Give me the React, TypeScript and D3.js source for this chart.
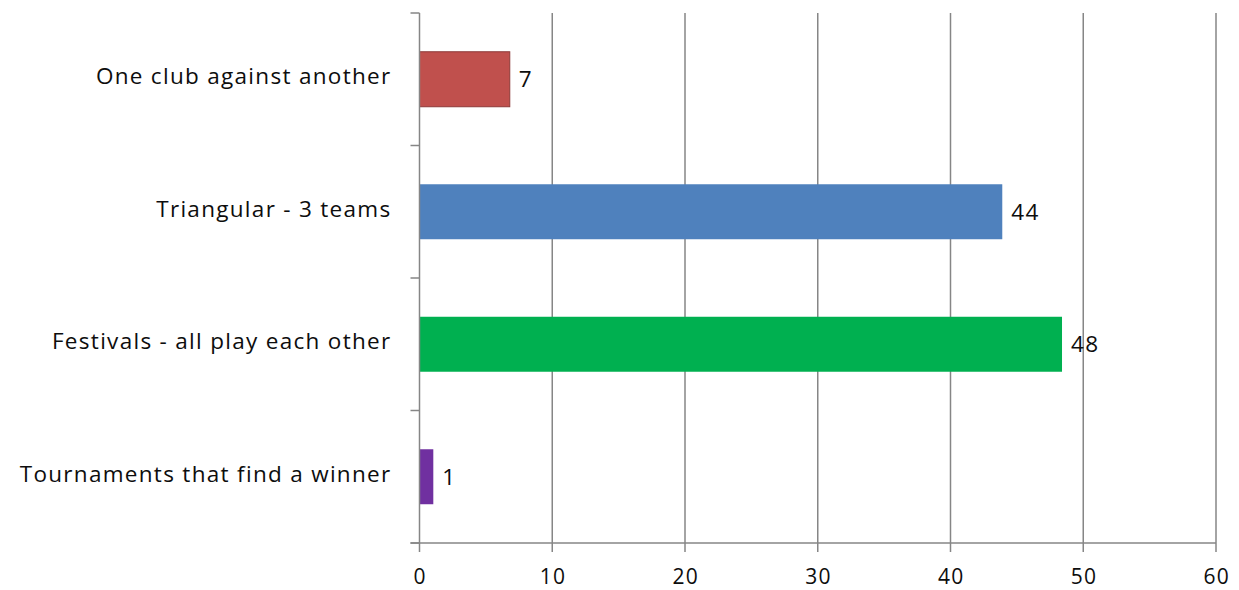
import React, { useEffect, useRef } from 'react';
import * as d3 from 'd3';

const categories = [
  'One club against another',
  'Triangular - 3 teams',
  'Festivals - all play each other',
  'Tournaments that find a winner',
];
const values = [6.8, 43.9, 48.4, 1.04];
const barColors = ['#C0504D', '#4F81BD', '#00B050', '#7030A0'];
const barStrokes = ['#8C3A38', 'none', 'none', 'none'];
const xTicks = [0, 10, 20, 30, 40, 50, 60];

const width = 1239;
const height = 590;

const App: React.FC = () => {
  const svgRef = useRef<SVGSVGElement | null>(null);

  useEffect(() => {
    document.body.style.margin = '0';
    if (!svgRef.current) return;
    const svg = d3.select(svgRef.current);
    svg.selectAll('*').remove();

    const margin = { top: 13, right: 23, bottom: 47, left: 419.5 };
    const innerW = width - margin.left - margin.right;
    const innerH = height - margin.top - margin.bottom;
    const font = '"Open Sans", Lato, sans-serif';
    const fontSize = 22.5;
    const spacing = '1.3px';
    const grey = '#868686';
    const textColor = '#0d0d0d';

    const g = svg.append('g').attr('transform', `translate(${margin.left},${margin.top})`);

    const x = d3.scaleLinear().domain([0, 60]).range([0, innerW]);
    const y = d3.scaleBand().domain(categories).range([0, innerH]).paddingInner(0.585).paddingOuter(0.2925);

    // gridlines
    g.selectAll('.grid')
      .data(xTicks.slice(1))
      .enter()
      .append('line')
      .attr('x1', d => x(d))
      .attr('x2', d => x(d))
      .attr('y1', 0)
      .attr('y2', innerH)
      .attr('stroke', grey)
      .attr('stroke-width', 1.5);

    // bars
    g.selectAll('.bar')
      .data(values)
      .enter()
      .append('rect')
      .attr('x', 0)
      .attr('y', (d, i) => y(categories[i]) || 0)
      .attr('width', d => x(d))
      .attr('height', y.bandwidth())
      .attr('fill', (d, i) => barColors[i])
      .attr('stroke', (d, i) => barStrokes[i])
      .attr('stroke-width', 1);

    // value labels
    g.selectAll('.val')
      .data(values)
      .enter()
      .append('text')
      .attr('x', d => x(d) + 9)
      .attr('y', (d, i) => (y(categories[i]) || 0) + y.bandwidth() / 2)
      .attr('dy', '0.36em')
      .attr('font-family', font)
      .attr('font-size', fontSize)
      .attr('letter-spacing', spacing)
      .attr('fill', textColor)
      .text(d => d3.format('.0f')(d));

    // y axis
    const step = y.step();
    const boundaries = d3.range(categories.length + 1).map(i => i * step);
    g.append('line')
      .attr('x1', 0).attr('x2', 0)
      .attr('y1', 0).attr('y2', innerH)
      .attr('stroke', grey).attr('stroke-width', 1.5);
    g.selectAll('.ytick')
      .data(boundaries)
      .enter()
      .append('line')
      .attr('x1', -9).attr('x2', 0)
      .attr('y1', d => d).attr('y2', d => d)
      .attr('stroke', grey).attr('stroke-width', 1.5);

    g.selectAll('.ylab')
      .data(categories)
      .enter()
      .append('text')
      .attr('x', -28)
      .attr('y', d => (y(d) || 0) + y.bandwidth() / 2 - 3)
      .attr('dy', '0.36em')
      .attr('text-anchor', 'end')
      .attr('font-family', font)
      .attr('font-size', fontSize)
      .attr('letter-spacing', spacing)
      .attr('fill', textColor)
      .text(d => d);

    // x axis
    g.append('line')
      .attr('x1', -9).attr('x2', innerW)
      .attr('y1', innerH).attr('y2', innerH)
      .attr('stroke', grey).attr('stroke-width', 1.5);
    g.selectAll('.xtick')
      .data(xTicks)
      .enter()
      .append('line')
      .attr('x1', d => x(d)).attr('x2', d => x(d))
      .attr('y1', innerH).attr('y2', innerH + 9)
      .attr('stroke', grey).attr('stroke-width', 1.5);
    g.selectAll('.xlab')
      .data(xTicks)
      .enter()
      .append('text')
      .attr('x', d => x(d) + 0.7)
      .attr('y', innerH + 33)
      .attr('dy', '0.36em')
      .attr('text-anchor', 'middle')
      .attr('font-family', font)
      .attr('font-size', 21)
      .attr('letter-spacing', spacing)
      .attr('fill', textColor)
      .text(d => String(d));
  }, []);

  return <svg ref={svgRef} width={width} height={height} style={{ display: 'block', background: '#fff' }} />;
};

export default App;
